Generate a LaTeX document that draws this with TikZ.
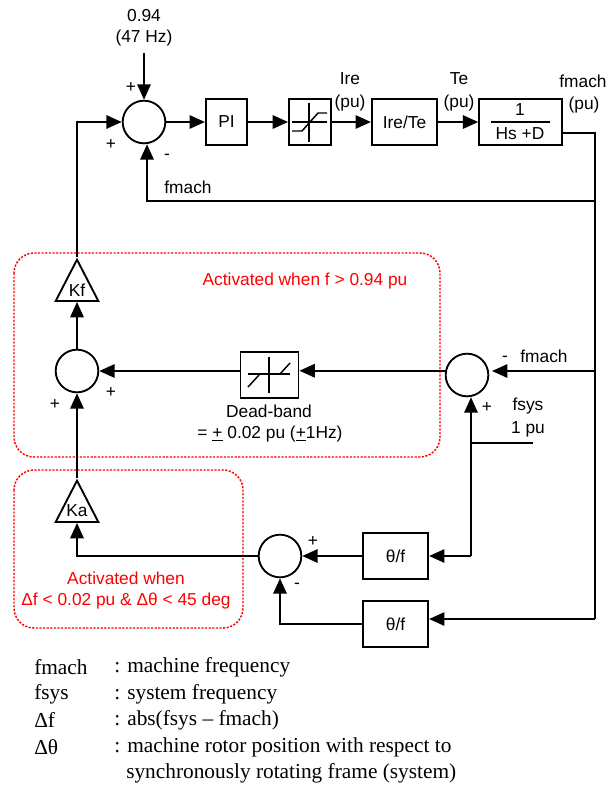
\documentclass[tikz,border=0pt]{standalone}
\usepackage{fontspec}
\setmainfont{Liberation Sans}
\newfontfamily\legendfont{Liberation Serif}
\usetikzlibrary{arrows.meta,shapes.geometric}
\definecolor{ActiveRed}{HTML}{FF0000}
\tikzset{
  sumnode/.style={circle,draw,line width=1.4pt,minimum size=32pt,inner sep=0pt},
  blockbox/.style={rectangle,draw,line width=1.4pt,minimum height=34.5pt,inner sep=0pt,font=\fontsize{13}{15}\selectfont},
  gaintri/.style={isosceles triangle,isosceles triangle stretches,shape border rotate=90,
    draw,line width=1.4pt,minimum width=32pt,minimum height=31pt,inner sep=0pt,anchor=center},
  flow/.style={line width=1.4pt,-{Triangle[length=11.5pt,width=10pt]}},
  wire/.style={line width=1.4pt},
  glyph/.style={line width=1.1pt},
  activezone/.style={draw=ActiveRed,line width=1.1pt,dash pattern=on 1.6pt off 1.1pt,rounded corners=15pt},
  lbl/.style={inner sep=0pt,font=\fontsize{13}{15}\selectfont},
  redlbl/.style={lbl,text=ActiveRed},
  legend/.style={inner sep=0pt,anchor=west,font=\fontsize{16}{18}\legendfont}
}
\begin{document}
\begin{tikzpicture}[x=0.75pt,y=-0.75pt]
  \useasboundingbox (0,0) rectangle (608,786);
  % activated zones
  \draw[activezone] (14,253) rectangle (440,457);
  \draw[activezone] (14,470) rectangle (243,628);

  % forward path
  \node[sumnode] (sum1) at (144,122) {};
  \node[blockbox,minimum width=31pt] (pi) at (226.5,122) {PI};
  \node[blockbox,minimum width=31.5pt] (sat) at (310,122) {};
  \node[blockbox,minimum width=49pt] (ire) at (404.5,122) {Ire/Te};
  \node[blockbox,minimum width=62pt] (hs) at (520.5,122) {};
  \node[lbl] (one) at (520,110) {1};
  \node[lbl] (hsd) at (520,134) {Hs +D};

  % middle row
  \node[sumnode] (sum2) at (77,371) {};
  \node[blockbox,minimum width=43.5pt] (db) at (269.5,375) {};
  \node[sumnode] (sum3) at (467,375) {};
  \node[gaintri] (kf) at (77,288) {};
  \node[lbl] (kftxt) at (77,290) {Kf};

  % lower row
  \node[gaintri] (ka) at (77,509) {};
  \node[lbl] (katxt) at (77,511) {Ka};
  \node[sumnode] (sum4) at (280,556) {};
  \node[blockbox,minimum width=49pt] (thA) at (395.5,556) {θ/f};
  \node[blockbox,minimum width=49pt] (thB) at (395.5,624) {θ/f};

  \coordinate (ref) at (144,53);
  \coordinate (fout) at (595,133);
  \coordinate (frow) at (595,201);
  \coordinate (fback) at (147,201);
  \coordinate (fin) at (595,371);
  \coordinate (fbot) at (595,619);
  \coordinate (kfup) at (77,122);
  \coordinate (fsysup) at (471,556);
  \coordinate (fsysin) at (533,443);
  \coordinate (kaelbow) at (77,556);
  \coordinate (thelbow) at (280,624);

  % connectors
  \draw[flow] (ref) -- (sum1.north);
  \draw[flow] (sum1) -- (pi);
  \draw[flow] (pi) -- (sat);
  \draw[flow] (sat) -- (ire);
  \draw[flow] (ire) -- (hs);
  \draw[wire] (hs.east |- fout) -- (fout) -- (fbot);
  \draw[flow] (frow) -- (fback) -- (fback |- sum1.south);
  \draw[flow] (kf.north) -- (kfup) -- (sum1.west);
  \draw[flow] (sum2.north) -- (kf.south);
  \draw[flow] (ka.north) -- (sum2.south);
  \draw[flow] (sum3.169) -- (sum3.169 -| db.east);
  \draw[flow] (db.west |- sum2.east) -- (sum2.east);
  \draw[flow] (fin) -- (492,371);
  \draw[flow] (fsysup) -- (fsysup |- sum3.south);
  \draw[flow] (fsysup) -- (thA.east);
  \draw[wire] (fsysup |- fsysin) -- (fsysin);
  \draw[flow] (thA.west) -- (sum4.east);
  \draw[flow] (sum4.west) -- (kaelbow) -- (ka.south);
  \draw[flow] (fbot) -- (thB.east |- fbot);
  \draw[flow] (thB.west) -- (thelbow) -- (sum4.south);

  % block glyphs
  \draw[glyph] (309,103) -- (309,142) (292,122) -- (327,122);
  \draw[glyph] (292,131) -- (302,131) -- (318,113) -- (327,113);
  \draw[glyph] (269,357) -- (269,393) (248,374) -- (290,374);
  \draw[glyph] (248,387) -- (259,375) (280,374) -- (290,363);
  \draw[glyph] (491,122) -- (550,122);

  % signal labels
  \node[lbl] (reftxt) at (144,16) {0.94};
  \node[lbl] (hztxt) at (144,38) {(47 Hz)};
  \node[lbl] (iretxt) at (350,79) {Ire};
  \node[lbl] (irepu) at (350,103) {(pu)};
  \node[lbl] (tetxt) at (459,79) {Te};
  \node[lbl] (tepu) at (459,103) {(pu)};
  \node[lbl] (fmtxt) at (583,81) {fmach};
  \node[lbl] (fmpu) at (584,105) {(pu)};
  \node[lbl] (fbtxt) at (188,187) {fmach};
  \node[lbl] (fintxt) at (544,356) {fmach};
  \node[lbl] (fsystxt) at (528,406) {fsys};
  \node[lbl] (fsyspu) at (528,429) {1 pu};
  \node[lbl] (dbtxt) at (269,411) {Dead-band};
  \node[lbl] (dbval) at (270,434) {= \underline{+} 0.02 pu (\underline{+}1Hz)};

  % signs
  \node[lbl] (s1a) at (131,87) {+};
  \node[lbl] (s1b) at (111,144) {+};
  \node[lbl] (s1c) at (167,157) {-};
  \node[lbl] (s2a) at (55,404) {+};
  \node[lbl] (s2b) at (111,392) {+};
  \node[lbl] (s3a) at (505,359) {-};
  \node[lbl] (s3b) at (487,407) {+};
  \node[lbl] (s4a) at (313,541) {+};
  \node[lbl] (s4b) at (297,586) {-};

  % zone captions
  \node[redlbl] (zonea) at (305,281) {Activated when f > 0.94 pu};
  \node[redlbl] (zoneb) at (126,578) {Activated when};
  \node[redlbl] (zonec) at (126,601) {Δf < 0.02 pu \& Δθ < 45 deg};

  % legend
  \node[legend] (l1) at (34,667) {fmach};
  \node[legend] (l2) at (34,694) {fsys};
  \node[legend] (l3) at (34,720) {Δf};
  \node[legend] (l4) at (34,747) {Δθ};
  \node[legend] (d1) at (114,667) {: machine frequency};
  \node[legend] (d2) at (114,694) {: system frequency};
  \node[legend] (d3) at (114,720) {: abs(fsys – fmach)};
  \node[legend] (d4) at (114,747) {: machine rotor position with respect to};
  \node[legend] (d5) at (126,773) {synchronously rotating frame (system)};
\end{tikzpicture}
\end{document}
